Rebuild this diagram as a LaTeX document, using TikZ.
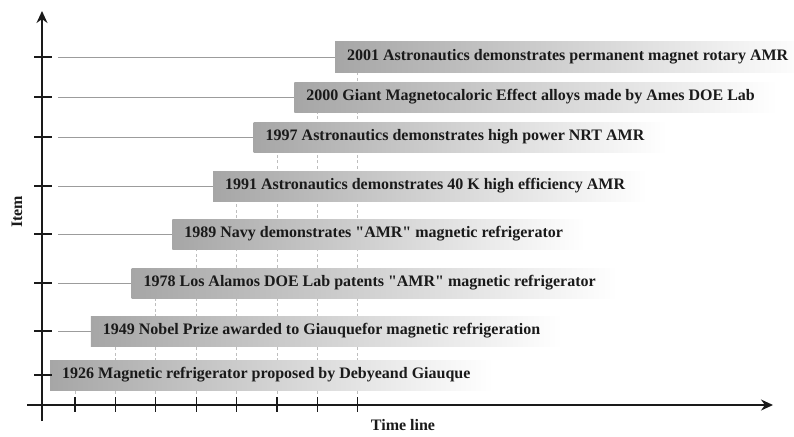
\documentclass[tikz,border=0pt]{standalone}
\usepackage{fontspec}
\setmainfont{Liberation Serif}[Ligatures=TeXOff]
\usetikzlibrary{arrows.meta,calc,positioning}
\definecolor{tinta}{HTML}{1A1A1A}
\definecolor{guia}{HTML}{9C9C9C}
\definecolor{punto}{HTML}{BEBEBE}
\definecolor{barra}{HTML}{A6A6A6}
\newcommand{\comilla}{\symbol{34}}
\tikzset{
  eje/.style={draw=tinta,line width=1.5pt,-{Stealth[length=12pt,width=11pt]}},
  marca/.style={draw=tinta,line width=1.1pt},
  lguia/.style={draw=guia,line width=0.8pt},
  punteada/.style={draw=punto,line width=0.8pt,dash pattern=on 3pt off 2.5pt},
  evento/.style={anchor=west,minimum height=30pt,inner xsep=12pt,inner ysep=0pt,left color=barra,right color=white,font=\fontsize{16}{18}\selectfont\bfseries,text=tinta,execute at end node={\hspace*{10pt}}},
  rotulo/.style={font=\fontsize{16}{18}\selectfont\bfseries,text=tinta},
}
\begin{document}
\begin{tikzpicture}[x=1pt,y=-1pt]
  \useasboundingbox (0,0) rectangle (794,436);
  % puntos de cada evento
  \foreach \k/\yc in {0/375,1/331,2/283,3/234,4/186,5/137,6/97,7/57} {
    \coordinate (t\k) at ({75+40.4*\k},405);
    \coordinate (s\k) at ({75+40.4*\k},{\yc+15});
    \coordinate (w\k) at ({50+40.7*\k},\yc);
    \coordinate (g\k) at (58,\yc);
    \coordinate (m\k) at (42,\yc);
  }
  \foreach \k in {0,...,7} {
    \draw[punteada] (t\k) -- (s\k);
    \draw[lguia] (g\k) -- (w\k);
  }
  % barras
  \foreach \k/\yr/\txt in {0/1926/{Magnetic refrigerator proposed by Debyeand Giauque},
      1/1949/{Nobel Prize awarded to Giauquefor magnetic refrigeration},
      2/1978/{Los Alamos DOE Lab patents \comilla AMR\comilla\ magnetic refrigerator},
      3/1989/{Navy demonstrates \comilla AMR\comilla\ magnetic refrigerator},
      4/1991/{Astronautics demonstrates 40 K high efficiency AMR},
      5/1997/{Astronautics demonstrates high power NRT AMR},
      6/2000/{Giant Magnetocaloric Effect alloys made by Ames DOE Lab},
      7/2001/{Astronautics demonstrates permanent magnet rotary AMR}} {
    \node[evento] (b\yr) at (w\k) {\yr\ \txt};
  }
  % ejes
  \coordinate (oy) at (42,421);
  \coordinate (ty) at (42,11);
  \coordinate (ox) at (27,405);
  \coordinate (tx) at (773,405);
  \draw[eje] (oy) -- (ty);
  \draw[eje] (ox) -- (tx);
  \foreach \k in {0,...,7} {
    \draw[marca] ($(t\k)+(0,-8)$) -- ($(t\k)+(0,7)$);
    \draw[marca] ($(m\k)+(-8,0)$) -- ($(m\k)+(10,0)$);
  }
  \node[rotulo,rotate=90] (item) at (17,212) {Item};
  \node[rotulo] (tiempo) at (403,425) {Time line};
\end{tikzpicture}
\end{document}
